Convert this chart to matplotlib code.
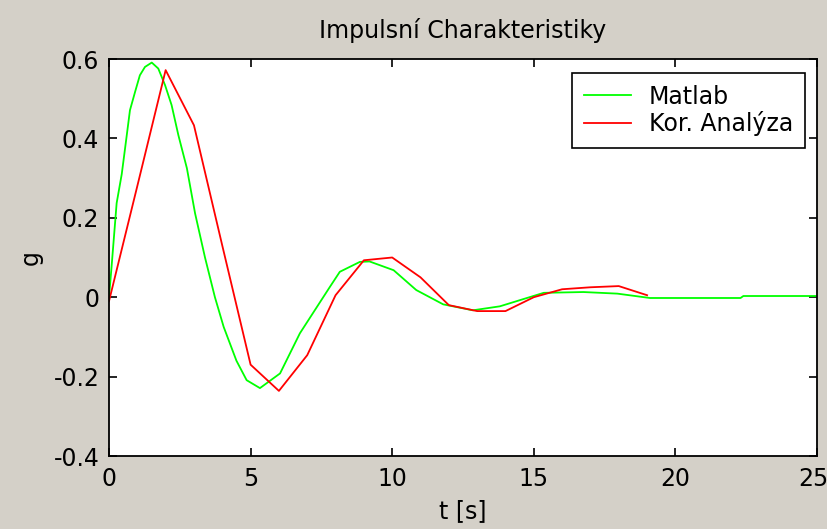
import matplotlib
matplotlib.use("Agg")
import matplotlib.pyplot as plt
import matplotlib.transforms as mtransforms

# Matlab impulse response (green)
t_matlab = [0, 0.09, 0.27, 0.45, 0.62, 0.74, 0.92, 1.09, 1.27, 1.51, 1.74, 1.98,
            2.21, 2.45, 2.75, 3.04, 3.39, 3.74, 4.05, 4.5, 4.86, 5.33, 6.04, 6.74,
            7.8, 8.15, 8.86, 9.2, 10.05, 10.85, 11.8, 12.85, 13.8, 15.35, 16.75,
            17.95, 19.1, 22.3, 22.4, 25]
g_matlab = [0.0, 0.076, 0.237, 0.31, 0.404, 0.471, 0.517, 0.559, 0.58, 0.591,
            0.576, 0.534, 0.484, 0.408, 0.325, 0.211, 0.10, 0.0, -0.075, -0.16,
            -0.209, -0.229, -0.192, -0.091, 0.026, 0.064, 0.089, 0.09, 0.068,
            0.018, -0.018, -0.033, -0.023, 0.011, 0.013, 0.009, -0.002, -0.002,
            0.003, 0.003]

# Correlation analysis (red)
t_kor = list(range(0, 20))
g_kor = [-0.01, 0.28, 0.572, 0.433, 0.13, -0.17, -0.236, -0.146, 0.005, 0.093,
         0.10, 0.05, -0.02, -0.035, -0.035, 0.0, 0.02, 0.025, 0.028, 0.005]

title = "Impulsní Charakteristiky"
xlabel = "t [s]"
ylabel = "g"
legend_labels = ["Matlab", "Kor. Analýza"]
xticks = [0, 5, 10, 15, 20, 25]
yticks = [-0.4, -0.2, 0, 0.2, 0.4, 0.6]
ytick_labels = ["-0.4", "-0.2", "0", "0.2", "0.4", "0.6"]

plt.rcParams['font.family'] = ['DejaVu Sans']
FS = 17

bg = "#D4D0C8"
fig = plt.figure(figsize=(8.28, 5.29), dpi=100, facecolor=bg)
ax = fig.add_axes([109/828, 1-456/529, (817-109)/828, (456-59)/529])
ax.set_facecolor("white")

ax.plot(t_matlab, g_matlab, color="#00FF00", lw=1.3, label=legend_labels[0])
ax.plot(t_kor, g_kor, color="#FF0000", lw=1.3, label=legend_labels[1])

ax.set_xlim(0, 25)
ax.set_ylim(-0.4, 0.6)
ax.set_xticks(xticks)
ax.set_xticklabels([str(x) for x in xticks])
ax.set_yticks(yticks)
ax.set_yticklabels(ytick_labels)
ax.tick_params(direction="in", top=True, right=True, length=6, width=1.2,
               labelsize=FS)
ax.tick_params(axis="x", pad=8)
ax.tick_params(axis="y", pad=7)
for s in ax.spines.values():
    s.set_linewidth(1.3)
    s.set_color("black")

# keep the last x tick label inside the figure
last = ax.get_xticklabels()[-1]
last.set_transform(last.get_transform() +
                   mtransforms.ScaledTranslation(-4/100, 0, fig.dpi_scale_trans))

ax.set_title(title, fontsize=FS, pad=15)
ax.set_xlabel(xlabel, fontsize=FS, labelpad=6)
ax.set_ylabel(ylabel, fontsize=FS, labelpad=8)

leg = ax.legend(loc="upper right", fontsize=FS, frameon=True, fancybox=False,
                edgecolor="black", framealpha=1, borderpad=0.5,
                handlelength=2.0, handletextpad=0.75, labelspacing=0.1,
                borderaxespad=0, bbox_to_anchor=(0.983, 0.965))
leg.get_frame().set_linewidth(1.2)

fig.savefig("out.png", dpi=100, facecolor=bg)
